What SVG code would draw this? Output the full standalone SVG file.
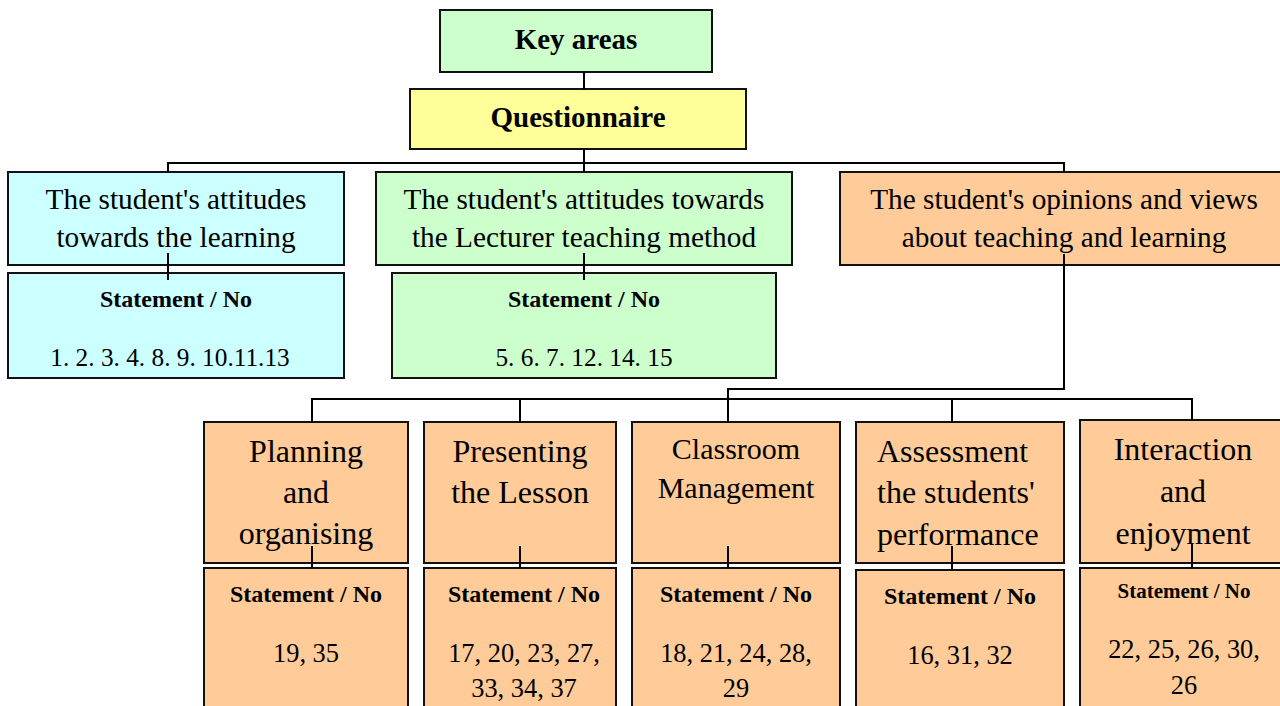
<svg xmlns="http://www.w3.org/2000/svg" width="1280" height="706" viewBox="0 0 1280 706">
<style>
rect{stroke:#111;stroke-width:2}
.cyan{fill:#CCFFFF}.green{fill:#CCFFCC}.yellow{fill:#FFFF99}.orange{fill:#FFCC99}
text{font-family:"Liberation Serif","Times New Roman",serif;fill:#000;text-anchor:middle}
.b{font-weight:bold;font-size:29px}
.h{font-size:29.3px}
.hb{font-size:32px}
.st{font-size:24px;font-weight:bold}
.n{font-size:25.3px}
.nb{font-size:26.4px}
.conn line,.conn polyline{stroke:#000;stroke-width:2;fill:none}
</style>
<rect width="1280" height="706" fill="#fff" style="stroke:none"/>
<g id="key-areas"><rect class="green" x="440" y="10" width="272" height="62"/><text class="b" x="576" y="49">Key areas</text></g>
<g id="questionnaire"><rect class="yellow" x="410" y="89" width="336" height="60"/><text class="b" x="578" y="127">Questionnaire</text></g>
<g id="attitudes-learning"><rect class="cyan" x="8" y="172" width="336" height="93"/><text class="h" x="176" y="209">The student's attitudes</text><text class="h" x="176" y="247">towards the learning</text></g>
<g id="statement-1"><rect class="cyan" x="8" y="273" width="336" height="105"/><text class="st" x="176" y="307">Statement / No</text><text class="n" x="170" y="366">1. 2. 3. 4. 8. 9. 10.11.13</text></g>
<g id="attitudes-lecturer"><rect class="green" x="376" y="172" width="416" height="93"/><text class="h" x="584" y="209">The student's attitudes towards</text><text class="h" x="584" y="247">the Lecturer teaching method</text></g>
<g id="statement-2"><rect class="green" x="392" y="273" width="384" height="105"/><text class="st" x="584" y="307">Statement / No</text><text class="n" x="584" y="366">5. 6. 7. 12. 14. 15</text></g>
<g id="opinions-views"><rect class="orange" x="840" y="172" width="450" height="93"/><text class="h" x="1064" y="209">The student's opinions and views</text><text class="h" x="1064" y="247">about teaching and learning</text></g>
<g id="planning"><rect class="orange" x="204" y="422" width="204" height="141"/><text class="hb" x="306" y="462">Planning</text><text class="hb" x="306" y="503">and</text><text class="hb" x="306" y="544">organising</text></g>
<g id="statement-planning"><rect class="orange" x="204" y="568" width="204" height="150"/><text class="st" x="306" y="602">Statement / No</text><text class="nb" x="306" y="662">19, 35</text></g>
<g id="presenting"><rect class="orange" x="424" y="422" width="192" height="141"/><text class="hb" x="520" y="462">Presenting</text><text class="hb" x="520" y="503">the Lesson</text></g>
<g id="statement-presenting"><rect class="orange" x="424" y="568" width="192" height="150"/><text class="st" x="524" y="602">Statement / No</text><text class="nb" x="524" y="662">17, 20, 23, 27,</text><text class="nb" x="524" y="697">33, 34, 37</text></g>
<g id="classroom"><rect class="orange" x="632" y="422" width="208" height="141"/><text class="hb" x="736" y="459" style="font-size:30px">Classroom</text><text class="hb" x="736" y="498" style="font-size:30px">Management</text></g>
<g id="statement-classroom"><rect class="orange" x="632" y="568" width="208" height="150"/><text class="st" x="736" y="602">Statement / No</text><text class="nb" x="736" y="662">18, 21, 24, 28,</text><text class="nb" x="736" y="697">29</text></g>
<g id="assessment"><rect class="orange" x="856" y="422" width="208" height="141"/><text class="hb" x="877" y="462" style="text-anchor:start">Assessment</text><text class="hb" x="877" y="503" style="text-anchor:start">the students'</text><text class="hb" x="877" y="545" style="text-anchor:start">performance</text></g>
<g id="statement-assessment"><rect class="orange" x="856" y="570" width="208" height="150"/><text class="st" x="960" y="604">Statement / No</text><text class="nb" x="960" y="664">16, 31, 32</text></g>
<g id="interaction"><rect class="orange" x="1080" y="420" width="210" height="143"/><text class="hb" x="1183" y="460">Interaction</text><text class="hb" x="1183" y="502">and</text><text class="hb" x="1183" y="544">enjoyment</text></g>
<g id="statement-interaction"><rect class="orange" x="1080" y="568" width="210" height="150"/><text class="st" x="1184" y="598" style="font-size:21px">Statement / No</text><text class="nb" x="1184" y="658">22, 25, 26, 30,</text><text class="nb" x="1184" y="694">26</text></g>
<g id="connectors" class="conn">
<line x1="584" y1="72" x2="584" y2="89"/>
<line x1="584" y1="149" x2="584" y2="172"/>
<polyline points="168,172 168,163 1064,163 1064,172"/>
<line x1="168" y1="253" x2="168" y2="280"/>
<line x1="584" y1="253" x2="584" y2="280"/>
<polyline points="1064,254 1064,389 728,389 728,422"/>
<polyline points="312,422 312,399 1192,399 1192,420"/>
<line x1="520" y1="399" x2="520" y2="422"/>
<line x1="952" y1="399" x2="952" y2="422"/>
<line x1="312" y1="546" x2="312" y2="568"/>
<line x1="520" y1="546" x2="520" y2="568"/>
<line x1="728" y1="546" x2="728" y2="568"/>
<line x1="952" y1="546" x2="952" y2="570"/>
<line x1="1192" y1="544" x2="1192" y2="568"/>
</g>
</svg>
